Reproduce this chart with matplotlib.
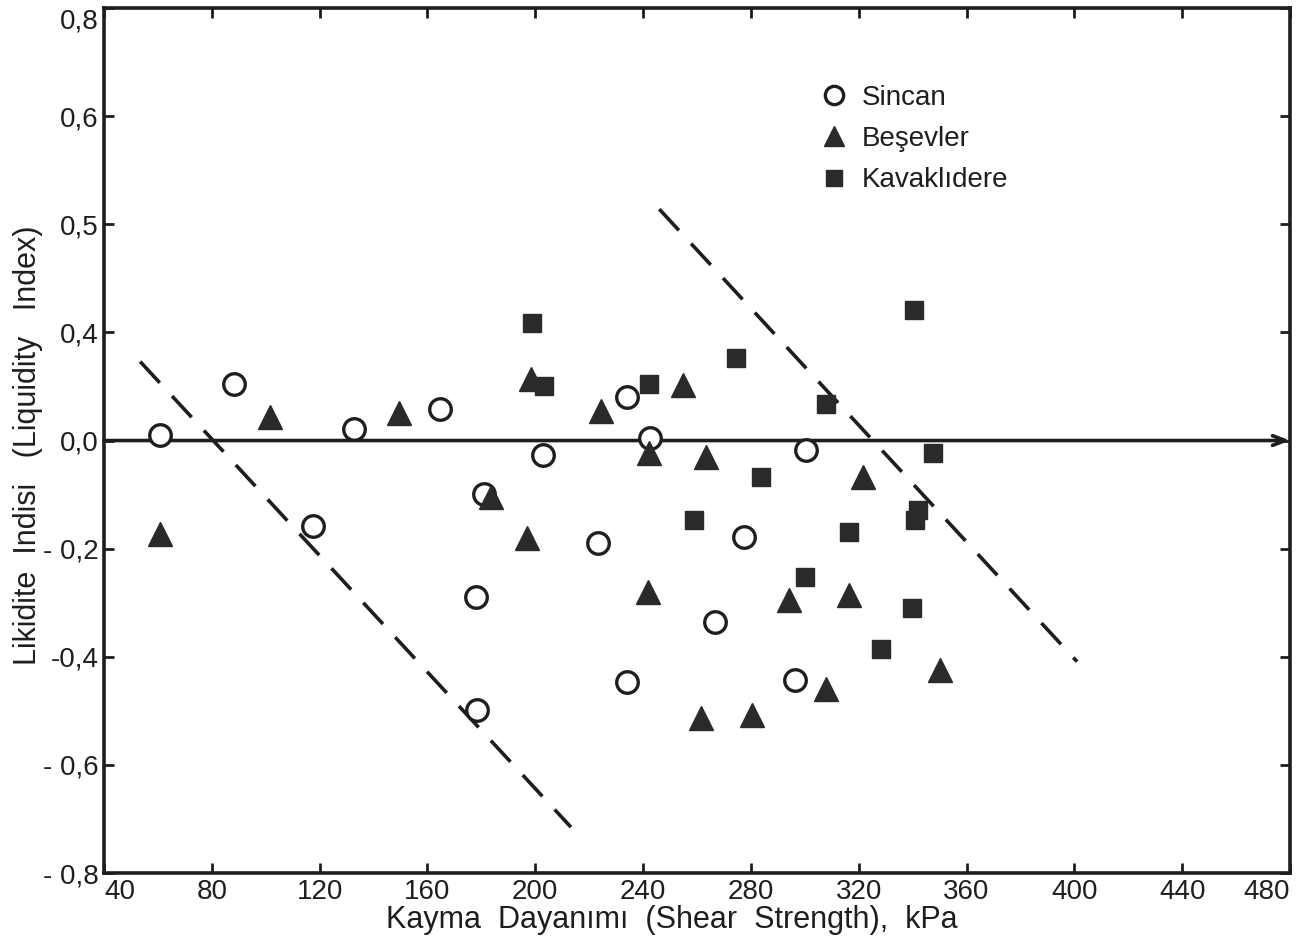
import matplotlib
matplotlib.use("Agg")
import matplotlib.pyplot as plt

plt.rcParams['font.family'] = ['Liberation Sans', 'DejaVu Sans']

# Sincan - open circles
sincan_x = [60.8, 88.1, 117.6, 132.7, 164.7, 178.0, 178.3, 180.8, 203.0, 223.1,
            234.0, 242.7, 233.9, 266.8, 277.3, 300.6, 296.5]
sincan_y = [0.011, 0.104, -0.159, 0.021, 0.058, -0.289, -0.498, -0.099, -0.027, -0.19,
            0.08, 0.004, -0.446, -0.335, -0.178, -0.017, -0.443]

# Besevler - filled triangles
besevler_x = [60.8, 101.4, 149.4, 183.5, 197.1, 198.4, 224.4, 241.7, 242.3, 254.7,
              263.4, 261.6, 280.4, 294.1, 307.7, 316.3, 321.4, 350.1]
besevler_y = [-0.172, 0.044, 0.051, -0.104, -0.181, 0.113, 0.054, -0.28, -0.024, 0.103,
              -0.031, -0.514, -0.508, -0.295, -0.46, -0.286, -0.067, -0.424]

# Kavaklidere - filled squares
kavak_x = [198.7, 203.3, 242.2, 259.0, 274.3, 283.9, 300.0, 307.8, 316.3, 328.2,
           339.6, 340.9, 342.1, 340.5, 347.7]
kavak_y = [0.217, 0.100, 0.104, -0.147, 0.152, -0.067, -0.252, 0.068, -0.169, -0.385,
           -0.309, -0.147, -0.128, 0.241, -0.024]

# Sinir cizgileri (kesikli)
sinir1_x = [53.4, 213.2]
sinir1_y = [0.146, -0.715]
sinir2_x = [246.0, 401.0]
sinir2_y = [0.428, -0.409]

# Eksen bolumleri
x_ticks = [40, 80, 120, 160, 200, 240, 280, 320, 360, 400, 440, 480]
y_ticks = [0.8, 0.6, 0.4, 0.2, 0.0, -0.2, -0.4, -0.6, -0.8]
y_labels = ["0,8", "0,6", "0,5", "0,4", "0,0", "- 0,2", "-0,4", "- 0,6", "- 0,8"]

ink = '#1e1e1e'

fig = plt.figure(figsize=(13.07, 9.43), dpi=100)
ax = fig.add_axes([0.0796, 0.0742, 0.9074, 0.9173])

ax.set_xlim(40, 480)
ax.set_ylim(-0.8, 0.8)

for s in ax.spines.values():
    s.set_linewidth(2.6)
    s.set_color(ink)

ax.set_xticks(x_ticks)
ax.set_xticklabels([str(v) for v in x_ticks])
ax.set_yticks(y_ticks)
ax.set_yticklabels(y_labels)
ax.tick_params(direction='in', length=7, width=2, colors=ink,
               labelsize=20, top=True, right=True)
ax.tick_params(axis='y', pad=4)
ax.tick_params(axis='x', pad=4)

# ilk ve son x etiketi kenara yaslanir
xl = ax.get_xticklabels()
xl[0].set_horizontalalignment('left')
xl[-1].set_horizontalalignment('right')
# ust etiket cercevenin altina iner
ax.get_yticklabels()[0].set_verticalalignment('top')

# Sifir cizgisi ve ok
ax.annotate("", xy=(480, 0.0), xytext=(40, 0.0),
            arrowprops=dict(arrowstyle='->,head_length=0.9,head_width=0.35',
                            lw=2.6, color=ink, shrinkA=0, shrinkB=0))

dash = dict(color=ink, lw=2.6, linestyle=(0, (8, 5)))
ax.plot(sinir1_x, sinir1_y, **dash)
ax.plot(sinir2_x, sinir2_y, **dash)

ax.plot(sincan_x, sincan_y, 'o', ms=15.5, mfc='white', mec=ink, mew=2.4,
        linestyle='none', label='Sincan', zorder=3)
ax.plot(besevler_x, besevler_y, '^', ms=17, mfc='#2a2a2a', mec='#2a2a2a',
        linestyle='none', label='Beşevler', zorder=3)
ax.plot(kavak_x, kavak_y, 's', ms=13, mfc='#2a2a2a', mec='#2a2a2a',
        linestyle='none', label='Kavaklıdere', zorder=3)

leg = ax.legend(loc='upper left', bbox_to_anchor=(0.583, 0.94), frameon=False,
                fontsize=20, handletextpad=0.5, labelspacing=0.55,
                markerscale=0.85, handlelength=1.0)
for t in leg.get_texts():
    t.set_color(ink)

ax.set_xlabel("Kayma  Dayanımı  (Shear  Strength),  kPa", fontsize=22, color=ink,
              va='center')
ax.set_ylabel("Likidite  Indisi   (Liquidity   Index)", fontsize=22, color=ink,
              va='center')
ax.xaxis.set_label_coords(0.479, -0.054)
ax.yaxis.set_label_coords(-0.064, 0.495)

fig.savefig("out.png", dpi=100, facecolor='white')
